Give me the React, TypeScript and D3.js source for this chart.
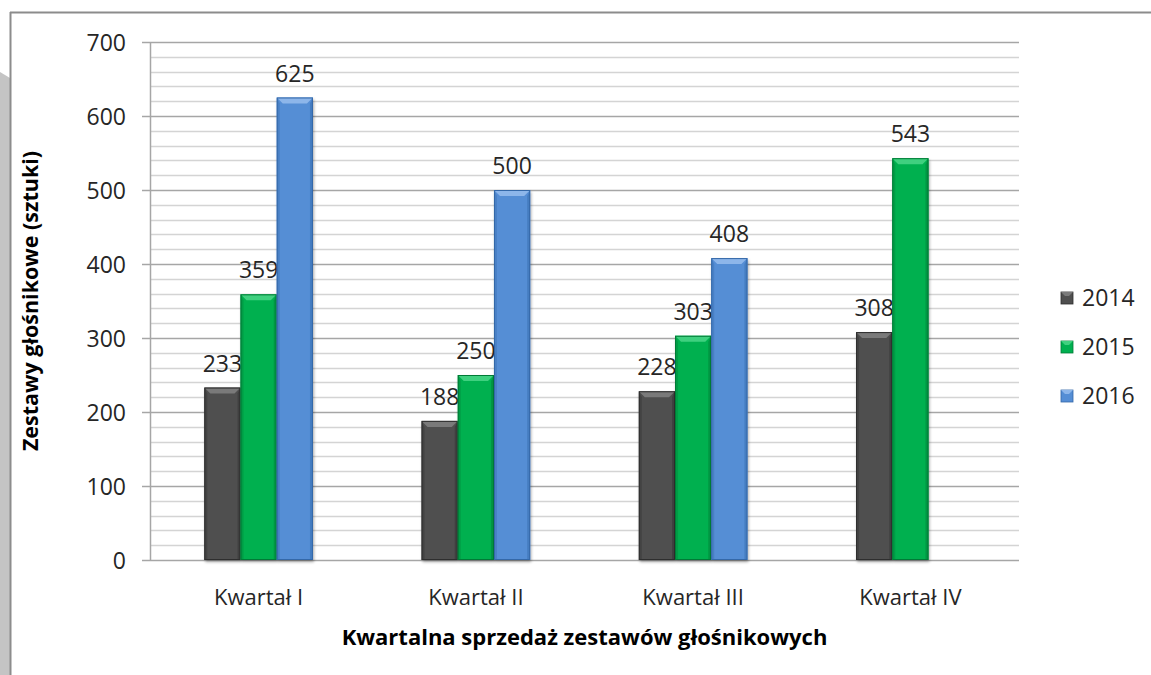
import React from 'react'
import * as d3 from 'd3'

const categories = ['Kwartał I', 'Kwartał II', 'Kwartał III', 'Kwartał IV']
const years = ['2014', '2015', '2016']
const values2014 = [233, 188, 228, 308]
const values2015 = [359, 250, 303, 543]
const values2016: (number | null)[] = [625, 500, 408, null]
const yTicks = [0, 100, 200, 300, 400, 500, 600, 700]

const colors: Record<string, { base: string; light: string; dark: string }> = {
  '2014': { base: '#4f4f4f', light: '#7a7a7a', dark: '#2e2e2e' },
  '2015': { base: '#00b050', light: '#3fd07f', dark: '#007a36' },
  '2016': { base: '#558ed5', light: '#8db6ea', dark: '#3468a8' },
}

const W = 1151
const H = 675
const margin = { top: 42, right: 132, bottom: 115, left: 150 }
const FONT = "'Open Sans', 'Noto Sans', sans-serif"

export default function App() {
  const innerW = W - margin.left - margin.right
  const innerH = H - margin.top - margin.bottom

  const x = d3.scaleBand<string>().domain(categories).range([0, innerW]).paddingInner(0.5).paddingOuter(0.25)
  const x1 = d3.scaleBand<string>().domain(years).range([0, x.bandwidth()])
  const y = d3.scaleLinear().domain([0, 700]).range([innerH, 0])
  const minorTicks = d3.range(0, 701, 20)

  const series = [
    { year: '2014', values: values2014 as (number | null)[] },
    { year: '2015', values: values2015 as (number | null)[] },
    { year: '2016', values: values2016 },
  ]

  const bw = x1.bandwidth()

  return (
    <svg width={W} height={H} style={{ position: 'absolute', left: 0, top: 0, background: '#fff' }}>
      <defs>
        <filter id="shadow" x="-20%" y="-5%" width="140%" height="115%">
          <feGaussianBlur in="SourceAlpha" stdDeviation="1.5" />
          <feOffset dx="1" dy="2" result="b" />
          <feComponentTransfer><feFuncA type="linear" slope="0.35" /></feComponentTransfer>
          <feMerge><feMergeNode /><feMergeNode in="SourceGraphic" /></feMerge>
        </filter>
      </defs>
      {/* frame */}
      <polygon points={`0,72 10,78 10,${H} 0,${H}`} fill="#c4c4c4" />
      <line x1={10.5} y1={12} x2={10.5} y2={H} stroke="#8c8c8c" strokeWidth={2} />
      <line x1={10} y1={12.5} x2={W} y2={12.5} stroke="#8c8c8c" strokeWidth={2} />

      <g transform={`translate(${margin.left},${margin.top})`}>
        {minorTicks.map(t => (
          <line key={t} x1={0} x2={innerW} y1={Math.round(y(t)) + 0.5} y2={Math.round(y(t)) + 0.5}
            stroke={t % 100 === 0 ? '#a6a6a6' : '#d4d4d4'} strokeWidth={1.5} />
        ))}
        <line x1={0.5} x2={0.5} y1={0} y2={innerH} stroke="#a6a6a6" strokeWidth={1.5} />
        {yTicks.map(t => (
          <g key={t} transform={`translate(0,${Math.round(y(t)) + 0.5})`}>
            <line x1={-8} x2={0} stroke="#a6a6a6" strokeWidth={1.5} />
            <text x={-24} dy="0.35em" textAnchor="end" fontFamily={FONT} fontSize={23} fill="#262626">{t}</text>
          </g>
        ))}

        {categories.map((c, i) => (
          <g key={c} transform={`translate(${x(c)},0)`}>
            {series.map(s => {
              const v = s.values[i]
              if (v == null) return null
              const col = colors[s.year]
              const bx = x1(s.year) as number
              const by = y(v)
              const bh = innerH - by
              const bev = 6
              return (
                <g key={s.year}>
                  <g filter="url(#shadow)">
                    <rect x={bx} y={by} width={bw} height={bh} fill={col.base} />
                  </g>
                  <polygon points={`${bx},${by} ${bx + bw},${by} ${bx + bw - bev},${by + bev} ${bx + bev},${by + bev}`} fill={col.light} />
                  <polygon points={`${bx},${by} ${bx + bev * 0.5},${by + bev} ${bx + bev * 0.5},${innerH} ${bx},${innerH}`} fill={col.dark} opacity={0.35} />
                  <polygon points={`${bx + bw},${by} ${bx + bw - bev * 0.5},${by + bev} ${bx + bw - bev * 0.5},${innerH} ${bx + bw},${innerH}`} fill={col.dark} opacity={0.45} />
                  <rect x={bx + 0.5} y={by + 0.5} width={bw - 1} height={bh - 1} fill="none" stroke={col.dark} strokeWidth={1} />
                  <text x={bx + bw / 2} y={by - 16} textAnchor="middle" fontFamily={FONT} fontSize={23} fill="#262626">{v}</text>
                </g>
              )
            })}
            <text x={x.bandwidth() / 2} y={innerH + 45} textAnchor="middle" fontFamily={FONT} fontSize={22} fill="#262626">{c}</text>
          </g>
        ))}

        <text x={innerW / 2} y={innerH + 85} textAnchor="middle" fontFamily={FONT} fontSize={22} fontWeight="bold" fill="#000">
          Kwartalna sprzedaż zestawów głośnikowych
        </text>
        <text transform={`translate(${-112},${innerH / 2}) rotate(-90)`} textAnchor="middle" fontFamily={FONT} fontSize={21.5} fontWeight="bold" fill="#000">
          Zestawy głośnikowe (sztuki)
        </text>
      </g>

      {/* legend */}
      {years.map((yr, i) => {
        const ly = 298 + i * 49
        const col = colors[yr]
        return (
          <g key={yr} transform={`translate(1061,${ly})`}>
            <rect x={0} y={-6} width={12} height={12} fill={col.base} stroke={col.dark} strokeWidth={0.8} />
            <polygon points="0,-6 12,-6 8,-2 4,-2" fill={col.light} />
            <text x={21} dy="0.35em" fontFamily={FONT} fontSize={23} fill="#262626">{yr}</text>
          </g>
        )
      })}
    </svg>
  )
}
